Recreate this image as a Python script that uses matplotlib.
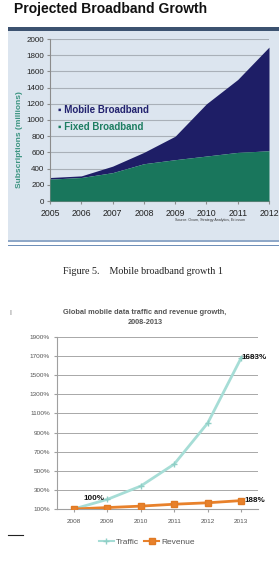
import matplotlib
matplotlib.use("Agg")
import matplotlib.pyplot as plt
from matplotlib.patches import Rectangle
from matplotlib.lines import Line2D
import numpy as np

# ---- data: top chart ----
years_top = [2005, 2006, 2007, 2008, 2009, 2010, 2011, 2012]
fixed_bb = [270, 290, 350, 460, 510, 555, 600, 620]
total_bb = [290, 310, 430, 600, 800, 1200, 1500, 1900]
top_yticks = [0, 200, 400, 600, 800, 1000, 1200, 1400, 1600, 1800, 2000]

# ---- data: bottom chart ----
years_bot = ["2008", "2009", "2010", "2011", "2012", "2013"]
traffic = [100, 200, 340, 570, 1000, 1683]
revenue = [100, 115, 130, 150, 165, 188]
bot_yticks = [100, 300, 500, 700, 900, 1100, 1300, 1500, 1700, 1900]

W, H = 279, 564
fig = plt.figure(figsize=(W / 100, H / 100), dpi=100)
fig.patch.set_facecolor("white")

def fx(px):
    return px / W

def fy(py):
    return 1 - py / H

NARROW = ["Liberation Sans Narrow", "Liberation Sans", "DejaVu Sans"]
SANS = ["Liberation Sans", "DejaVu Sans"]

# ---- top panel background and bars ----
fig.patches.append(Rectangle((fx(8), fy(240)), fx(271), (240 - 29) / H,
                             transform=fig.transFigure, facecolor="#DCE5EF",
                             edgecolor="none", zorder=-5))
fig.patches.append(Rectangle((fx(8), fy(31)), fx(271), 4 / H,
                             transform=fig.transFigure, facecolor="#3C5270",
                             edgecolor="none", zorder=-4))
fig.patches.append(Rectangle((fx(8), fy(242)), fx(271), 2 / H,
                             transform=fig.transFigure, facecolor="#8FA8C8",
                             edgecolor="none", zorder=-4))
fig.patches.append(Rectangle((fx(8), fy(246)), fx(271), 1.5 / H,
                             transform=fig.transFigure, facecolor="#6F8FB8",
                             edgecolor="none", zorder=-4))

fig.text(fx(14), fy(9), "Projected Broadband Growth", fontsize=10,
         fontweight="bold", family=NARROW, color="#111111", va="center", ha="left")

ax1 = fig.add_axes([fx(50), fy(201), fx(219), 162 / H])
ax1.set_facecolor("none")
ax1.fill_between(years_top, fixed_bb, total_bb, color="#1E1E66", lw=0, zorder=2)
ax1.fill_between(years_top, 0, fixed_bb, color="#19765C", lw=0, zorder=3)
ax1.set_xlim(2005, 2012)
ax1.set_ylim(0, 2000)
ax1.set_yticks(top_yticks)
ax1.set_xticks(years_top)
ax1.yaxis.grid(True, color="#A9B0B8", lw=0.8, zorder=1)
ax1.set_axisbelow(True)
for s in ["top", "right"]:
    ax1.spines[s].set_visible(False)
ax1.spines["left"].set_color("#8C8C8C")
ax1.spines["bottom"].set_color("#8C8C8C")
ax1.tick_params(axis="both", length=2, color="#8C8C8C", labelsize=5.8,
                labelcolor="#222222", pad=2)
for lab in ax1.get_yticklabels() + ax1.get_xticklabels():
    lab.set_family(NARROW)
ax1.tick_params(axis="x", labelsize=6.3, pad=4)
fig.text(fx(20), fy(140), "Subscriptions (millions)", rotation=90, fontsize=6,
         fontweight="bold", color="#3A9480", family=SANS, ha="center", va="center")
fig.text(fx(58), fy(110), "\u25aa Mobile Broadband", fontsize=7, fontweight="bold",
         color="#22226E", family=NARROW, ha="left", va="center")
fig.text(fx(58), fy(127), "\u25aa Fixed Broadband", fontsize=7, fontweight="bold",
         color="#1E7E62", family=NARROW, ha="left", va="center")
fig.text(fx(210), fy(220), "Source: Ovum, Strategy Analytics, Ericsson", fontsize=2.6,
         color="#333333", family=NARROW, ha="center", va="center")

# ---- caption ----
fig.text(fx(143), fy(272), "Figure 5.    Mobile broadband growth 1", fontsize=7.3,
         family=["Liberation Serif", "DejaVu Serif"], color="#222222",
         ha="center", va="center")

# ---- bottom chart ----
fig.text(fx(10), fy(313), "l", fontsize=5, color="#777777", ha="center", va="center")
fig.text(fx(145), fy(313), "Global mobile data traffic and revenue growth,",
         fontsize=5.3, fontweight="bold", color="#555555", family=SANS,
         ha="center", va="center")
fig.text(fx(145), fy(323), "2008-2013", fontsize=5.3, fontweight="bold",
         color="#555555", family=SANS, ha="center", va="center")

ax2 = fig.add_axes([fx(57), fy(509), fx(201), 172 / H])
ax2.set_facecolor("white")
x = np.arange(len(years_bot))
ax2.plot(x, traffic, color="#A6DDD6", lw=2, marker="+", ms=4, mew=1,
         mec="#8FCFC6", zorder=3, label="Traffic")
ax2.plot(x, revenue, color="#E8812B", lw=2, marker="s", ms=4.5,
         mec="#E07A24", zorder=4, label="Revenue")
ax2.set_xlim(-0.5, len(years_bot) - 0.5)
ax2.set_ylim(100, 1900)
ax2.set_yticks(bot_yticks)
ax2.set_yticklabels([f"{v}%" for v in bot_yticks])
ax2.set_xticks(x)
ax2.set_xticklabels(years_bot)
ax2.yaxis.grid(True, color="#A8A8A8", lw=0.7)
ax2.set_axisbelow(True)
for s in ["top", "right"]:
    ax2.spines[s].set_visible(False)
ax2.spines["left"].set_color("#A0A0A0")
ax2.spines["bottom"].set_color("#A0A0A0")
ax2.tick_params(axis="both", length=2, color="#A0A0A0", labelsize=4.6,
                labelcolor="#555555", pad=3)
ax2.tick_params(axis="x", pad=5)
for lab in ax2.get_yticklabels() + ax2.get_xticklabels():
    lab.set_family(SANS)

ax2.annotate("100%", (x[1], traffic[1]), xytext=(-17, 1), textcoords="offset points",
             fontsize=5.8, fontweight="bold", color="#111111", family=NARROW,
             ha="left", va="center")
ax2.annotate(f"{traffic[-1]}%", (x[-1], traffic[-1]), xytext=(0, 0),
             textcoords="offset points", fontsize=5.8, fontweight="bold",
             color="#111111", family=NARROW, ha="left", va="center")
ax2.annotate(f"{revenue[-1]}%", (x[-1], revenue[-1]), xytext=(2, 0),
             textcoords="offset points", fontsize=5.8, fontweight="bold",
             color="#111111", family=NARROW, ha="left", va="center")

leg = fig.legend(handles=[
    Line2D([], [], color="#A6DDD6", lw=1.5, marker="+", ms=4, mec="#8FCFC6"),
    Line2D([], [], color="#E8812B", lw=1.5, marker="s", ms=4, mec="#E07A24")],
    labels=["Traffic", "Revenue"], loc="center", bbox_to_anchor=(fx(147), fy(542)),
    ncol=2, frameon=False, handlelength=1.8, columnspacing=0.6,
    handletextpad=0.3, prop={"family": SANS, "size": 6})
for t in leg.get_texts():
    t.set_color("#555555")

fig.add_artist(Line2D([fx(8), fx(23)], [fy(535), fy(535)], color="#222222", lw=0.8))

fig.savefig("out.png", dpi=100, facecolor="white")
